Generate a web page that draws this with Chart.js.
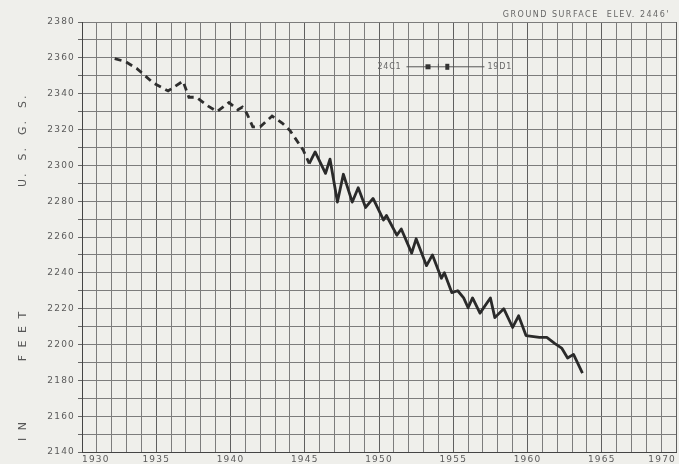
<!DOCTYPE html>
<html>
<head>
<meta charset="utf-8">
<script src="https://cdn.jsdelivr.net/npm/chart.js@4/dist/chart.umd.min.js"></script>
<style>
  html, body { margin: 0; padding: 0; background: #efefeb; }
  #wrap { width: 679px; height: 464px; position: relative; }
</style>
</head>
<body>
<div id="wrap"><canvas id="c" width="679" height="464"></canvas></div>
<script>
const dashedYears  = [1932.2, 1932.9, 1933.7, 1934.8, 1935.8, 1936.8, 1937.2, 1937.7, 1938.5, 1939.1, 1939.9, 1940.5, 1940.8, 1941.1, 1941.5, 1942.0, 1942.8, 1943.5, 1944.0, 1944.9, 1945.3];
const dashedLevels = [2359.5, 2358, 2354, 2346, 2341.5, 2347, 2338, 2338, 2333, 2330, 2335, 2331, 2332.5, 2329, 2321.5, 2321.5, 2327.5, 2323.5, 2319.5, 2308.5, 2301];

const solidYears  = [1945.3, 1945.7, 1946.4, 1946.7, 1947.2, 1947.6, 1948.2, 1948.6, 1949.1, 1949.6, 1950.3, 1950.5, 1951.2, 1951.5, 1952.2, 1952.5, 1953.2, 1953.6, 1954.2, 1954.4, 1954.9, 1955.3, 1955.7, 1956.0, 1956.3, 1956.8, 1957.5, 1957.8, 1958.4, 1959.0, 1959.4, 1959.9, 1960.8, 1961.3, 1961.85, 1962.3, 1962.7, 1963.1, 1963.7];
const solidLevels = [2301, 2307.5, 2295.5, 2303.5, 2279.5, 2295, 2279.5, 2287.5, 2276.5, 2281.5, 2269.5, 2272, 2261, 2264.5, 2251, 2259, 2244, 2250, 2237, 2240, 2229, 2230, 2226, 2220.5, 2226, 2217.5, 2226, 2215, 2220, 2209.5, 2216, 2205, 2204, 2204, 2200.5, 2198, 2192.5, 2194.5, 2184];

const xMin = 1930, xMax = 1970;
const yMin = 2140, yMax = 2380;
const yLabelValues = [2140, 2160, 2180, 2200, 2220, 2240, 2260, 2280, 2300, 2320, 2340, 2360, 2380];
const xLabelValues = [1930, 1935, 1940, 1945, 1950, 1955, 1960, 1965, 1970];

const axisTitleParts = ["I N", "F E E T", "U.  S.  G.  S."];
const axisTitleAt    = [2152, 2205, 2314];
const groundText = "GROUND SURFACE  ELEV. 2446'";
const wellLeft = "24C1", wellRight = "19D1";
const wellLevel = 2355, wellFrom = 1951.85, wellTo = 1957.1, wellMarks = [1953.3, 1954.0, 1954.6];

const toPts = (xs, ys) => xs.map((x, i) => ({ x: x, y: ys[i] }));

const paper = {
  id: 'paper',
  beforeDraw(chart) {
    const ctx = chart.ctx;
    ctx.save();
    ctx.fillStyle = '#efefeb';
    ctx.fillRect(0, 0, chart.width, chart.height);
    ctx.restore();
    ctx.letterSpacing = '1.2px';
  },
  afterDraw(chart) {
    const ctx = chart.ctx;
    const xs = chart.scales.x, ys = chart.scales.y;
    ctx.save();
    // rotated axis title pieces
    ctx.fillStyle = '#555';
    ctx.font = '11px "DejaVu Sans"';
    ctx.letterSpacing = '2px';
    ctx.textAlign = 'center';
    ctx.textBaseline = 'middle';
    axisTitleParts.forEach((t, i) => {
      ctx.save();
      ctx.translate(23, ys.getPixelForValue(axisTitleAt[i]));
      ctx.rotate(-Math.PI / 2);
      ctx.fillText(t, 0, 0);
      ctx.restore();
    });
    // ground surface text
    ctx.font = '8px "DejaVu Sans"';
    ctx.letterSpacing = '1.5px';
    ctx.textAlign = 'right';
    ctx.textBaseline = 'alphabetic';
    ctx.fillStyle = '#666';
    ctx.fillText(groundText, chart.chartArea.right - 6, 17);
    // well annotation
    const py = ys.getPixelForValue(wellLevel);
    const x0 = xs.getPixelForValue(wellFrom), x1 = xs.getPixelForValue(wellTo);
    ctx.strokeStyle = '#555';
    ctx.lineWidth = 1;
    ctx.beginPath(); ctx.moveTo(x0, py); ctx.lineTo(x1, py); ctx.stroke();
    ctx.fillStyle = '#333';
    const m0 = xs.getPixelForValue(wellMarks[0]);
    ctx.fillRect(m0 - 2.5, py - 2.5, 5, 5);
    const m1 = xs.getPixelForValue(wellMarks[1]);
    ctx.beginPath(); ctx.moveTo(m1, py - 3); ctx.lineTo(m1, py + 3); ctx.stroke();
    const m2 = xs.getPixelForValue(wellMarks[2]);
    ctx.fillRect(m2 - 2, py - 3, 4, 6);
    ctx.font = '8px "DejaVu Sans"';
    ctx.letterSpacing = '0.8px';
    ctx.fillStyle = '#666';
    ctx.textBaseline = 'middle';
    ctx.textAlign = 'right';
    ctx.fillText(wellLeft, x0 - 5, py);
    ctx.textAlign = 'left';
    ctx.fillText(wellRight, x1 + 3, py);
    ctx.restore();
  }
};

new Chart(document.getElementById('c'), {
  type: 'line',
  data: {
    datasets: [
      { data: toPts(dashedYears, dashedLevels), borderColor: '#2e2e2e', borderWidth: 2.8, borderDash: [7, 5], pointRadius: 0, tension: 0, fill: false },
      { data: toPts(solidYears, solidLevels), borderColor: '#2a2a2a', borderWidth: 2.8, pointRadius: 0, tension: 0, fill: false, borderJoinStyle: 'round' }
    ]
  },
  options: {
    responsive: false,
    animation: false,
    devicePixelRatio: 1,
    layout: { padding: { top: 22, right: 3, left: 0, bottom: 0 } },
    plugins: { legend: { display: false }, tooltip: { enabled: false }, title: { display: false } },
    scales: {
      x: {
        type: 'linear', min: xMin, max: xMax,
        afterFit(s) { s.height = 12; },
        border: { display: true, color: '#444', width: 1 },
        grid: {
          color: c => (c.tick && c.tick.value % 5 === 0) ? '#5e5e5e' : '#7c7c7c',
          lineWidth: 1, drawTicks: false
        },
        ticks: {
          stepSize: 1, autoSkip: false, maxRotation: 0, align: 'inner', padding: 2,
          color: '#5a5a5a', font: { family: 'DejaVu Sans', size: 9 },
          callback: v => xLabelValues.includes(v) ? String(v) : ''
        }
      },
      y: {
        type: 'linear', min: yMin, max: yMax,
        afterFit(s) { s.width = 82; },
        border: { display: true, color: '#444', width: 1 },
        grid: { color: '#7c7c7c', lineWidth: 1, tickLength: 4, tickColor: '#666' },
        ticks: {
          stepSize: 10, autoSkip: false, padding: 3,
          color: '#5a5a5a', font: { family: 'DejaVu Sans', size: 9 },
          callback: v => yLabelValues.includes(v) ? String(v) : ''
        }
      }
    }
  },
  plugins: [paper]
});
</script>
</body>
</html>
